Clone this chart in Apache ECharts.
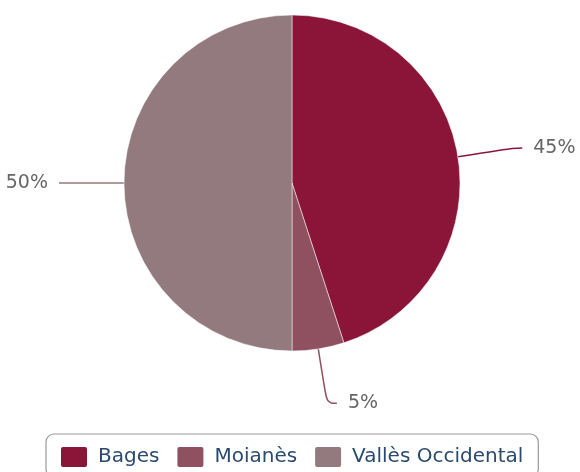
<!DOCTYPE html>
<html>
<head>
<meta charset="utf-8">
<script src="https://cdn.jsdelivr.net/npm/echarts@6/dist/echarts.min.js"></script>
<style>
  html, body { margin: 0; padding: 0; background: #fff; }
  #chart { width: 580px; height: 472px; }
</style>
</head>
<body>
<div id="chart"></div>
<script>
// comarques i percentatges
var categories = ["Bages", "Moianès", "Vallès Occidental"];
var values = [45, 5, 50];
var colors = ["#8a1538", "#8f5060", "#937a7e"];

var pieData = [];
for (var i = 0; i < categories.length; i++) {
  pieData.push({ name: categories[i], value: values[i] });
}

var myChart = echarts.init(document.getElementById("chart"));
var option = {
  animation: false,
  color: colors,
  legend: {
    data: categories,
    top: 434,
    left: 46,
    itemWidth: 28,
    itemHeight: 22,
    itemGap: 16,
    icon: "path://M3,0 L25,0 Q28,0 28,3 L28,19 Q28,22 25,22 L3,22 Q0,22 0,19 L0,3 Q0,0 3,0 Z",
    borderColor: "#999",
    borderWidth: 1.2,
    borderRadius: 8,
    padding: [11, 15, 8, 13],
    textStyle: {
      fontFamily: "'DejaVu Sans', sans-serif",
      fontSize: 20,
      color: "#2b4a6f",
      padding: [0, 0, 0, 5]
    }
  },
  series: [
    {
      type: "pie",
      center: [292, 183],
      radius: 168,
      startAngle: 90,
      clockwise: true,
      data: pieData,
      itemStyle: {
        borderColor: "#fff",
        borderWidth: 0.5
      },
      label: {
        show: true,
        formatter: "{c}%",
        fontFamily: "'DejaVu Sans', sans-serif",
        fontSize: 19,
        color: "#666",
        overflow: "none",
        distanceToLabelLine: 11
      },
      labelLine: {
        show: true,
        length: 55,
        length2: 10,
        smooth: 0.4,
        lineStyle: { width: 1.5 }
      },
      emphasis: { disabled: true }
    }
  ]
};
myChart.setOption(option, true);
window.addEventListener("resize", function () {
  myChart.resize();
});
</script>
</body>
</html>
